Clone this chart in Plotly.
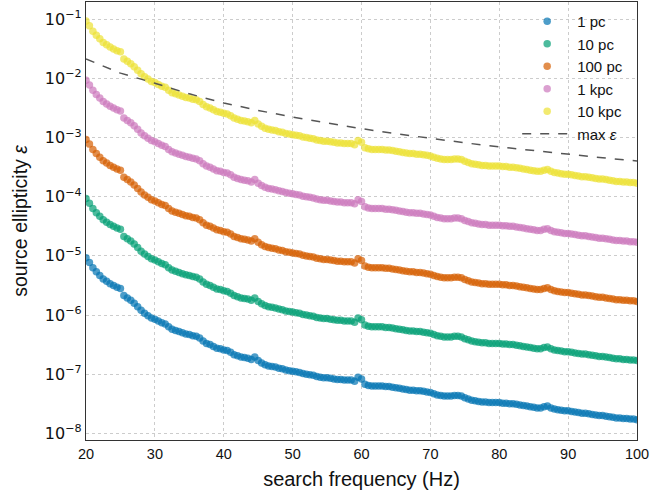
import numpy as np
import plotly.graph_objects as go

# search frequencies (Hz), one dot every 0.5 Hz
freq = [20 + 0.5 * i for i in range(161)]

# log10 of source ellipticity for the 1 pc source
log_eps_1pc = [
    -5.03, -5.11, -5.20, -5.27, -5.33, -5.39, -5.43, -5.47, -5.50, -5.53,
    -5.55, -5.67, -5.71, -5.75, -5.80, -5.86, -5.92, -5.97, -6.01, -6.05,
    -6.07, -6.10, -6.13, -6.15, -6.20, -6.24, -6.26, -6.28, -6.30, -6.32,
    -6.33, -6.35, -6.36, -6.39, -6.44, -6.48, -6.50, -6.53, -6.56, -6.57,
    -6.59, -6.60, -6.63, -6.67, -6.69, -6.71, -6.72, -6.73, -6.75, -6.71,
    -6.77, -6.81, -6.84, -6.86, -6.87, -6.88, -6.90, -6.91, -6.93, -6.94,
    -6.95, -6.96, -6.97, -6.99, -7.00, -7.01, -7.02, -7.04, -7.05, -7.06,
    -7.06, -7.07, -7.08, -7.09, -7.09, -7.10, -7.10, -7.10, -7.12, -7.05,
    -7.08, -7.17, -7.19, -7.20, -7.20, -7.20, -7.20, -7.21, -7.21, -7.22,
    -7.23, -7.24, -7.25, -7.26, -7.27, -7.27, -7.28, -7.28, -7.29, -7.30,
    -7.31, -7.33, -7.35, -7.36, -7.37, -7.37, -7.37, -7.36, -7.36, -7.37,
    -7.40, -7.42, -7.44, -7.45, -7.46, -7.47, -7.47, -7.48, -7.48, -7.48,
    -7.48, -7.49, -7.49, -7.50, -7.50, -7.51, -7.52, -7.53, -7.54, -7.55,
    -7.56, -7.57, -7.57, -7.55, -7.54, -7.57, -7.59, -7.60, -7.61, -7.62,
    -7.62, -7.63, -7.64, -7.65, -7.66, -7.66, -7.67, -7.68, -7.69, -7.70,
    -7.70, -7.71, -7.72, -7.73, -7.74, -7.74, -7.75, -7.75, -7.76, -7.76,
    -7.77,
]

# source distances relative to 1 pc (epsilon scales linearly with distance)
labels = ["1 pc", "10 pc", "100 pc", "1 kpc", "10 kpc"]
distance_pc = [1, 10, 100, 1000, 10000]
colors = ["#0173b2", "#029e73", "#d55e00", "#cc78bc", "#ece133"]

# maximum ellipticity curve
max_freq = [20, 25, 30, 35, 40, 45, 50, 55, 60, 65, 70, 75, 80, 85, 90, 95, 100]
max_log_eps = [-1.671, -1.91, -2.08, -2.26, -2.414, -2.54, -2.653, -2.755, -2.848,
               -2.934, -3.014, -3.088, -3.157, -3.222, -3.283, -3.341, -3.396]

# axis ticks
x_ticks = [20, 30, 40, 50, 60, 70, 80, 90, 100]
y_exponents = [-8, -7, -6, -5, -4, -3, -2, -1]

FONT = "Liberation Sans, Arial, sans-serif"
MATHFONT = "DejaVu Sans, sans-serif"

fig = go.Figure()
base = np.power(10.0, np.array(log_eps_1pc))
for lab, d, c in zip(labels, distance_pc, colors):
    fig.add_trace(go.Scatter(
        x=freq, y=base * d, mode="markers", name=lab,
        marker=dict(color=c, size=7.5, opacity=0.7, line=dict(width=0)),
    ))
fig.add_trace(go.Scatter(
    x=max_freq, y=np.power(10.0, np.array(max_log_eps)), mode="lines",
    name="max <i>ε</i>", line=dict(color="#555555", width=1.5, dash="dash"),
))

axis_common = dict(
    showline=True, mirror=True, linecolor="#333333", linewidth=1.2,
    showgrid=True, gridcolor="#cccccc", griddash="dot", gridwidth=1,
    ticks="", zeroline=False,
)

fig.update_layout(
    width=669, height=495,
    margin=dict(l=86, r=32, t=2, b=55),
    paper_bgcolor="white", plot_bgcolor="white",
    font=dict(family=FONT, size=14, color="#111111"),
    showlegend=True,
    legend=dict(
        x=0.984, y=0.993, xanchor="right", yanchor="top",
        bgcolor="rgba(0,0,0,0)", borderwidth=0,
        font=dict(family=FONT, size=15, color="#111111"),
        itemsizing="trace", itemwidth=50, tracegroupgap=0,
    ),
    xaxis=dict(
        range=[20, 100], tickmode="array",
        tickvals=x_ticks, ticktext=[str(v) for v in x_ticks],
        tickfont=dict(family=FONT, size=14.5, color="#111111"),
        title=dict(text="search frequency (Hz)", font=dict(family=FONT, size=20), standoff=11),
        **axis_common,
    ),
    yaxis=dict(
        type="log", range=[-8.113, -0.707], tickmode="array",
        tickvals=[10.0 ** e for e in y_exponents],
        ticktext=["10<sup>−%d</sup>" % (-e) for e in y_exponents],
        tickfont=dict(family=MATHFONT, size=16, color="#111111"),
        title=dict(text="source ellipticity <i>ε</i>", font=dict(family=FONT, size=19.5), standoff=12),
        **axis_common,
    ),
)

fig.write_html(
    "out.html",
    config={"displayModeBar": False},
    post_script="document.body.style.margin='0px';",
)
